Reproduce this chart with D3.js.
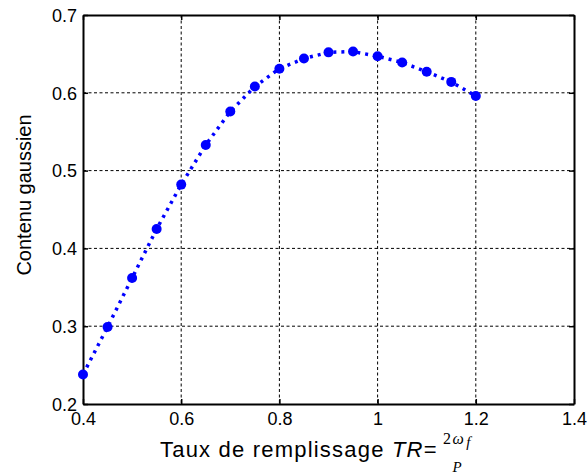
<!DOCTYPE html>
<html><head><meta charset="utf-8">
<script src="https://cdn.jsdelivr.net/npm/d3@7"></script>
<style>body{margin:0;background:#fff}svg{display:block}</style>
</head><body>
<svg id="c" width="588" height="474"></svg>
<script>
const tr = [0.4,0.45,0.5,0.55,0.6,0.65,0.7,0.75,0.8,0.85,0.9,0.95,1.0,1.05,1.1,1.15,1.2];
const contenu = [0.238,0.299,0.362,0.425,0.482,0.533,0.576,0.608,0.631,0.644,0.652,0.653,0.647,0.639,0.627,0.614,0.596];
const xTicks = [0.4,0.6,0.8,1,1.2,1.4];
const yTicks = [0.2,0.3,0.4,0.5,0.6,0.7];

const svg = d3.select("#c");
const L=83,R=574,T=15,B=404;
const x = d3.scaleLinear().domain([0.4,1.4]).range([L,R]);
const y = d3.scaleLinear().domain([0.2,0.7]).range([B,T]);
const font = "'Liberation Sans', Arial, sans-serif";
const serif = "'Liberation Serif', 'DejaVu Serif', serif";

// grid
const g = svg.append("g");
g.selectAll(".gx").data(xTicks.slice(1,-1)).join("line")
 .attr("x1",d=>x(d)).attr("x2",d=>x(d)).attr("y1",T).attr("y2",B)
 .attr("stroke","#000").attr("stroke-width",1).attr("stroke-dasharray","3,2.5");
g.selectAll(".gy").data(yTicks.slice(1,-1)).join("line")
 .attr("y1",d=>y(d)).attr("y2",d=>y(d)).attr("x1",L).attr("x2",R)
 .attr("stroke","#000").attr("stroke-width",1).attr("stroke-dasharray","3,2.5");

// axes
const xa = svg.append("g").attr("transform",`translate(0,${B})`)
 .call(d3.axisBottom(x).tickValues(xTicks).tickFormat(d3.format("")).tickSizeInner(-5).tickSizeOuter(0).tickPadding(8));
const ya = svg.append("g").attr("transform",`translate(${L},0)`)
 .call(d3.axisLeft(y).tickValues(yTicks).tickFormat(d3.format("")).tickSizeInner(-5).tickSizeOuter(0).tickPadding(6));
svg.append("g").attr("transform",`translate(0,${T})`)
 .call(d3.axisTop(x).tickValues(xTicks).tickFormat("").tickSizeInner(-5).tickSizeOuter(0));
svg.append("g").attr("transform",`translate(${R},0)`)
 .call(d3.axisRight(y).tickValues(yTicks).tickFormat("").tickSizeInner(-5).tickSizeOuter(0));
svg.selectAll(".domain").attr("stroke","#000").attr("stroke-width",2);
svg.selectAll(".tick line").attr("stroke","#000").attr("stroke-width",1.5);
svg.selectAll(".tick text").attr("font-family",font).attr("font-size",18).attr("fill","#000");
xa.selectAll(".tick text").attr("dy","0.71em");
ya.selectAll(".tick text").attr("dy","0.35em");

// line
const line = d3.line().x((d,i)=>x(tr[i])).y(d=>y(d));
svg.append("path").datum(contenu).attr("d",line)
 .attr("fill","none").attr("stroke","#0000ff").attr("stroke-width",3.5)
 .attr("stroke-dasharray","3,5");
svg.selectAll(".pt").data(contenu).join("circle")
 .attr("cx",(d,i)=>x(tr[i])).attr("cy",d=>y(d)).attr("r",5).attr("fill","#0000ff");

// labels
svg.append("text").attr("transform",`translate(31,195) rotate(-90)`)
 .attr("text-anchor","middle").attr("font-family",font).attr("font-size",20).text("Contenu gaussien");
const xl = svg.append("text").attr("x",160).attr("y",457).attr("font-family",font).attr("font-size",22).attr("letter-spacing",1.2);
xl.append("tspan").text("Taux de remplissage ");
xl.append("tspan").attr("font-style","italic").text("TR");
xl.append("tspan").text("=");
const fx = 443;
const fr = svg.append("text").attr("x",fx).attr("y",444).attr("font-family",serif).attr("font-size",16).attr("letter-spacing",1.5);
fr.append("tspan").text("2");
fr.append("tspan").attr("font-style","italic").text("ω");
fr.append("tspan").attr("font-style","italic").attr("font-size",15).attr("dy",3).attr("dx",1).text("f");
svg.append("text").attr("x",457).attr("y",472).attr("text-anchor","middle").attr("font-family",serif).attr("font-style","italic").attr("font-size",15).text("P");
</script>
</body></html>
